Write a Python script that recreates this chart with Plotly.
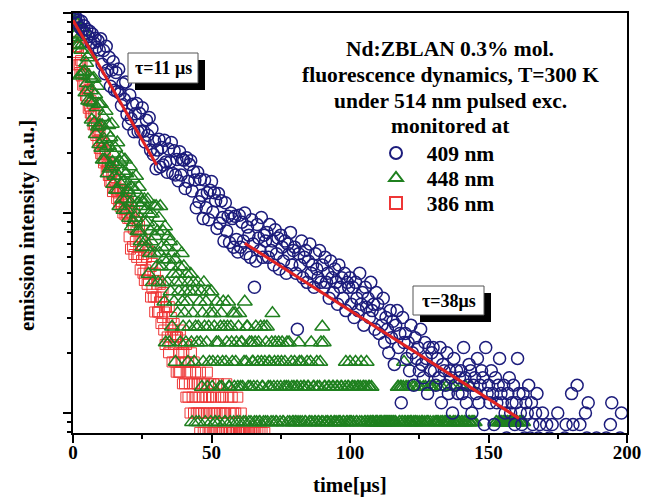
import plotly.graph_objects as go

# ---------------- data ----------------
BLUE_DT = 0.5       # sampling interval of the 409 nm transient [µs]
GREEN_DT = 0.25     # sampling interval of the 448 nm transient [µs]
RED_DT = 0.25       # sampling interval of the 386 nm transient [µs]
BLUE_STEP = 0.125   # intensity quantum of the 409 nm record [a.u.]
GREEN_STEP = 0.45   # intensity quantum of the 448 nm record [a.u.]
RED_STEP = 0.2      # intensity quantum of the 386 nm record [a.u.]

# 409 nm, counts per sample, t = 0 ... 200 µs
blue_counts = [
    800, 742, 765, 712, 738, 676, 728, 655, 690, 632, 662, 610, 648, 566, 628, 570, 598, 540, 582, 522,
    594, 443, 520, 398, 545, 414, 481, 344, 415, 456, 329, 403, 324, 420, 317, 276, 354, 296, 362, 249,
    223, 311, 237, 280, 204, 251, 282, 204, 252, 205, 269, 205, 181, 233, 196, 240, 165, 211, 157, 183,
    133, 165, 187, 136, 170, 139, 185, 144, 128, 167, 144, 180, 126, 164, 124, 148, 116, 162, 124, 148,
    147, 106, 151, 115, 140, 146, 103, 129, 117, 85, 128, 91, 118, 98, 75, 117, 85, 101, 74, 104,
    115, 81, 101, 92, 67, 100, 71, 92, 76, 58, 90, 65, 77, 57, 80, 75, 54, 77, 59, 51,
    78, 54, 72, 58, 80, 50, 68, 62, 48, 74, 56, 34, 46, 70, 60, 52, 76, 48, 62, 58,
    64, 48, 70, 52, 58, 44, 66, 50, 60, 42, 62, 54, 46, 58, 40, 56, 50, 64, 44, 52,
    54, 40, 21, 50, 44, 58, 38, 48, 52, 36, 46, 56, 40, 44, 34, 50, 42, 38, 52, 36,
    44, 34, 48, 36, 40, 30, 46, 38, 32, 42, 36, 28, 44, 34, 38, 30, 40, 26, 36, 34,
    38, 28, 34, 24, 36, 30, 26, 40, 28, 32, 22, 34, 27, 30, 24, 36, 26, 28, 21, 32,
    28, 20, 25, 22, 30, 18, 24, 21, 16, 26, 19, 23, 14, 22, 26, 17, 20, 9, 24, 18,
    20, 15, 18, 13, 22, 16, 11, 19, 15, 17, 13, 21, 14, 12, 18, 15, 10, 17, 13, 16,
    17, 13, 11, 15, 12, 17, 9, 14, 13, 11, 16, 10, 13, 12, 8, 15, 11, 13, 10, 12,
    13, 10, 17, 12, 9, 11, 14, 13, 8, 11, 12, 10, 15, 9, 11, 13, 12, 7, 17, 10,
    11, 9, 13, 10, 7, 12, 9, 11, 15, 10, 9, 11, 8, 6, 10, 12, 8, 9, 11, 7,
    9, 15, 10, 8, 7, 10, 6, 9, 8, 11, 6, 9, 7, 5, 8, 10, 6, 7, 5, 8,
    5, 5, 7, 4, 6, 4, 7, 5, 5, 4, 8, 4, 5, 5, 4, 6, 7, 4, 5, 5,
    10, 7, 5, 4, 11, 4, 7, 5, 5, 4, 8, 6, 9, 5, 4, 5, 5, 4, 6, 4,
    5, 4, 5, 4, 4, 6, 5, 4, 7, 9, 5, 4, 5, 4, 4, 6, 8, 5, 4, 5, 4,
]

# 448 nm, counts per sample, t = 0 ... 162.5 µs
green_counts = [
    221, 193, 204, 173, 200, 175, 154, 196, 153, 168, 108, 188, 145, 109, 156, 112, 179, 114, 89, 125,
    99, 133, 81, 108, 138, 80, 91, 65, 104, 79, 105, 63, 87, 55, 75, 96, 60, 78, 49, 61,
    78, 47, 61, 41, 67, 52, 41, 72, 47, 56, 35, 61, 48, 37, 53, 38, 62, 40, 31, 44,
    34, 47, 29, 39, 50, 29, 34, 24, 40, 31, 42, 26, 36, 23, 32, 41, 26, 35, 23, 29,
    28, 21, 38, 25, 30, 19, 33, 26, 20, 29, 21, 34, 22, 18, 25, 30, 18, 24, 16, 26,
    15, 25, 20, 26, 16, 23, 15, 20, 26, 11, 22, 14, 18, 16, 22, 10, 19, 24, 14, 17,
    24, 12, 18, 10, 21, 14, 24, 12, 15, 10, 18, 13, 8, 19, 5, 15, 10, 17, 13, 5,
    16, 9, 12, 6, 14, 11, 8, 13, 4, 10, 15, 7, 11, 9, 12, 5, 10, 14, 8, 6,
    12, 7, 9, 5, 11, 8, 4, 10, 6, 9, 11, 5, 2, 7, 10, 4, 9, 6, 2, 5,
    10, 6, 2, 8, 5, 9, 3, 7, 4, 10, 6, 2, 8, 5, 3, 9, 6, 4, 7, 2,
    9, 3, 4, 7, 6, 2, 2, 5, 8, 4, 5, 2, 3, 6, 7, 3, 4, 8, 6, 2,
    2, 4, 5, 6, 8, 3, 3, 2, 6, 5, 4, 7, 2, 3, 7, 4, 5, 2, 3, 6,
    7, 2, 3, 5, 5, 3, 2, 4, 8, 2, 4, 6, 6, 3, 2, 5, 3, 2, 5, 4,
    4, 3, 2, 5, 6, 2, 3, 4, 5, 2, 2, 6, 4, 3, 3, 2, 6, 4, 2, 5,
    6, 2, 3, 4, 4, 3, 2, 5, 7, 2, 3, 4, 5, 2, 2, 3, 4, 5, 1, 2,
    3, 4, 5, 2, 2, 3, 4, 1, 3, 5, 2, 3, 5, 2, 1, 4, 3, 2, 2, 3,
    4, 2, 2, 3, 3, 2, 5, 4, 2, 3, 4, 2, 1, 3, 3, 2, 2, 1, 4, 3,
    3, 2, 2, 4, 5, 2, 1, 3, 3, 2, 2, 1, 4, 3, 2, 2, 3, 4, 5, 2,
    6, 2, 5, 3, 3, 2, 1, 2, 2, 3, 3, 1, 2, 2, 1, 3, 3, 2, 2, 1,
    2, 3, 3, 2, 1, 2, 2, 3, 3, 1, 2, 2, 1, 3, 4, 2, 2, 3, 3, 2,
    4, 2, 2, 3, 3, 2, 1, 3, 4, 2, 2, 3, 3, 1, 2, 3, 4, 2, 1, 3,
    3, 2, 2, 3, 4, 2, 2, 3, 3, 2, 2, 3, 2, 2, 2, 1, 1, 2, 2, 2,
    2, 1, 1, 2, 2, 2, 2, 1, 1, 2, 2, 2, 1, 2, 2, 1, 2, 2, 1, 2,
    2, 1, 2, 2, 1, 2, 2, 1, 1, 3, 3, 2, 2, 3, 3, 2, 2, 3, 4, 2,
    2, 3, 1, 2, 3, 2, 1, 2, 2, 2, 3, 1, 2, 3, 2, 2, 1, 2, 3, 1,
    2, 3, 1, 2, 2, 2, 3, 1, 2, 3, 1, 2, 2, 2, 3, 1, 2, 3, 3, 1,
    2, 1, 3, 2, 1, 2, 2, 3, 2, 1, 1, 2, 3, 2, 2, 1, 1, 2, 2, 3,
    2, 1, 1, 2, 2, 2, 3, 1, 1, 2, 2, 3, 2, 1, 1, 2, 2, 2, 2, 1,
    3, 2, 2, 1, 1, 2, 2, 3, 2, 1, 1, 2, 2, 2, 3, 1, 2, 2, 2, 1,
    2, 1, 1, 1, 1, 1, 1, 1, 1, 1, 1, 1, 1, 1, 1, 1, 1, 1, 1, 1,
    1, 1, 1, 1, 1, 1, 1, 1, 1, 1, 1, 2, 2, 1, 1, 2, 2, 1, 2, 2,
    1, 2, 2, 1, 2, 2, 1, 2, 2, 1, 2, 2, 1, 2, 2, 1, 2, 2, 1, 2,
    2, 2, 2, 1, 1, 2, 2, 2, 2, 1, 2,
]

# 386 nm, counts per sample, t = 0 ... 70 µs
red_counts = [
    475, 405, 441, 340, 385, 317, 340, 275, 336, 276, 252, 289, 242, 277, 218, 246, 221, 249, 193, 211,
    188, 205, 167, 207, 171, 158, 182, 153, 176, 138, 156, 139, 157, 122, 135, 128, 115, 131, 105, 124,
    99, 114, 98, 112, 89, 101, 91, 103, 81, 90, 86, 77, 89, 72, 86, 71, 79, 64, 81, 67,
    73, 66, 75, 59, 65, 63, 57, 66, 54, 65, 55, 60, 50, 63, 52, 49, 58, 50, 58, 47,
    57, 38, 47, 33, 50, 50, 34, 42, 31, 51, 36, 41, 30, 45, 31, 34, 43, 26, 38, 29,
    37, 25, 31, 23, 37, 26, 30, 22, 33, 23, 25, 32, 19, 27, 21, 28, 19, 23, 16, 25,
    19, 22, 16, 23, 16, 18, 22, 14, 19, 15, 20, 13, 16, 11, 17, 17, 12, 14, 10, 17,
    11, 12, 15, 9, 13, 11, 14, 9, 12, 8, 12, 12, 8, 10, 8, 13, 9, 10, 7, 11,
    10, 7, 9, 6, 11, 8, 6, 9, 7, 5, 8, 10, 6, 7, 5, 9, 6, 8, 5, 7,
    7, 5, 6, 4, 8, 5, 7, 6, 4, 5, 7, 4, 6, 5, 8, 4, 6, 5, 4, 7,
    6, 4, 5, 7, 4, 5, 6, 4, 5, 3, 7, 4, 5, 6, 4, 5, 4, 6, 3, 5,
    5, 4, 7, 3, 4, 6, 4, 5, 3, 4, 6, 4, 5, 3, 4, 5, 4, 3, 6, 4,
    4, 3, 4, 5, 3, 4, 3, 4, 4, 3, 4, 3, 3, 4, 3, 4, 3, 3, 4, 3,
    3, 4, 3, 3, 4, 3, 2, 4, 3, 3, 4, 2, 3, 4, 3, 2, 3, 4, 3, 3,
    3,
]

# single-exponential fits (end points of the straight lines on the log plot)
fit_fast_t = [0.0, 30.2]
fit_fast_i = [92.0, 17.4]
fit_slow_t = [62.0, 161.0]
fit_slow_i = [7.06, 0.94]

series_names = ["409 nm", "448 nm", "386 nm"]
x_ticks = [0, 50, 100, 150, 200]
title_lines = ["Nd:ZBLAN 0.3% mol.", "fluorescence dynamics, T=300 K",
               "under 514 nm pulsed exc.", "monitored at"]
tau_fast_label = "τ=11 μs"
tau_slow_label = "τ=38μs"

# ---------------- figure ----------------
blue_t = [i * BLUE_DT for i in range(len(blue_counts))]
green_t = [i * GREEN_DT for i in range(len(green_counts))]
red_t = [i * RED_DT for i in range(len(red_counts))]
blue_i = [c * BLUE_STEP for c in blue_counts]
green_i = [c * GREEN_STEP for c in green_counts]
red_i = [c * RED_STEP for c in red_counts]

W, H = 656, 499
ML, MR, MT, MB = 73, 29, 13, 66
PW, PH = W - ML - MR, H - MT - MB


def px(x):
    return (x - ML) / PW


def py(y):
    return (H - MB - y) / PH


SERIF = "Liberation Serif, Times New Roman, serif"
BLUE, GREEN, RED, FITRED = "#1c1c7c", "#1f801f", "#ee3636", "#e02222"

fig = go.Figure()
fig.add_trace(go.Scatter(
    x=red_t, y=red_i, mode="markers", name="\u00a0\u00a0" + series_names[2],
    marker=dict(symbol="square-open", size=10, color=RED, line=dict(width=1)),
    legend="legend3"))
fig.add_trace(go.Scatter(
    x=green_t, y=green_i, mode="markers", name="\u00a0\u00a0" + series_names[1],
    marker=dict(symbol="triangle-up-open", size=13, color=GREEN, line=dict(width=1.5)),
    legend="legend2"))
fig.add_trace(go.Scatter(
    x=blue_t, y=blue_i, mode="markers", name="\u00a0\u00a0" + series_names[0],
    marker=dict(symbol="circle-open", size=12, color=BLUE, line=dict(width=1.5)),
    legend="legend"))
fig.add_trace(go.Scatter(x=fit_fast_t, y=fit_fast_i, mode="lines",
                         line=dict(color=FITRED, width=3), showlegend=False))
fig.add_trace(go.Scatter(x=fit_slow_t, y=fit_slow_i, mode="lines",
                         line=dict(color=FITRED, width=3), showlegend=False))


def box(x0, y0, x1, y1, **kw):
    return dict(type="rect", xref="paper", yref="paper", x0=px(x0), x1=px(x1),
                y0=py(y1), y1=py(y0), layer="above", **kw)


shapes = [
    box(135, 60, 205, 90, fillcolor="black", line=dict(width=0)),
    box(128, 53, 198, 83, fillcolor="white", line=dict(color="#555555", width=1)),
    box(420, 293, 491, 322, fillcolor="black", line=dict(width=0)),
    box(413, 286, 484, 315, fillcolor="white", line=dict(color="#555555", width=1)),
]

title_font = dict(family=SERIF, size=21.5, color="black")
axis_font = dict(family=SERIF, size=21, color="black")
annotations = [
    dict(xref="paper", yref="paper", x=px(163), y=py(68), text="<b>" + tau_fast_label + "</b>",
         showarrow=False, font=dict(family=SERIF, size=18, color="black"),
         xanchor="center", yanchor="middle"),
    dict(xref="paper", yref="paper", x=px(448.5), y=py(300.5), text="<b>" + tau_slow_label + "</b>",
         showarrow=False, font=dict(family=SERIF, size=18, color="black"),
         xanchor="center", yanchor="middle"),
    dict(xref="paper", yref="paper", x=0.5, y=py(485), text="<b>time[μs]</b>",
         showarrow=False, font=axis_font, xanchor="center", yanchor="middle"),
    dict(xref="paper", yref="paper", x=px(27), y=py(226),
         text="<b>emission intensity [a.u.]</b>", textangle=-90,
         showarrow=False, font=axis_font, xanchor="center", yanchor="middle"),
]
for line_text, y_px in zip(title_lines, [49, 75, 100.5, 126]):
    annotations.append(dict(xref="paper", yref="paper", x=px(450), y=py(y_px),
                            text="<b>" + line_text + "</b>", showarrow=False,
                            font=title_font, xanchor="center", yanchor="middle"))

legend_common = dict(xanchor="left", yanchor="middle", bgcolor="rgba(0,0,0,0)",
                     borderwidth=0, font=dict(family=SERIF, size=21.5, color="black", weight=700),
                     itemsizing="constant", x=px(376))

y_minor = [0.8, 0.9, 2, 3, 4, 5, 6, 7, 8, 9, 20, 30, 40, 50, 60, 70, 80, 90]

fig.update_layout(
    width=W, height=H,
    margin=dict(l=ML, r=MR, t=MT, b=MB, pad=0),
    paper_bgcolor="white", plot_bgcolor="white",
    shapes=shapes, annotations=annotations,
    legend=dict(y=py(153), **legend_common),
    legend2=dict(y=py(178), **legend_common),
    legend3=dict(y=py(203), **legend_common),
    xaxis=dict(range=[0, 200], tickmode="array", tickvals=x_ticks,
               ticks="outside", ticklen=8, tickwidth=1.5, tickcolor="black",
               ticklabelstandoff=-7,
               minor=dict(dtick=25, tick0=0, ticks="outside", ticklen=4, tickwidth=1.5, tickcolor="black"),
               showline=True, linewidth=2, linecolor="black", mirror=True,
               showgrid=False, zeroline=False,
               tickfont=dict(family=SERIF, size=19, color="black", weight=700)),
    yaxis=dict(type="log", range=[-0.1, 2.0], tickmode="array", tickvals=[1, 10, 100],
               showticklabels=False, ticks="outside", ticklen=8, tickwidth=1.5, tickcolor="black",
               minor=dict(tickmode="array", tickvals=y_minor, ticks="outside", ticklen=4,
                          tickwidth=1.5, tickcolor="black"),
               showline=True, linewidth=2, linecolor="black", mirror=True,
               showgrid=False, zeroline=False),
)

fig.write_html("out.html")
